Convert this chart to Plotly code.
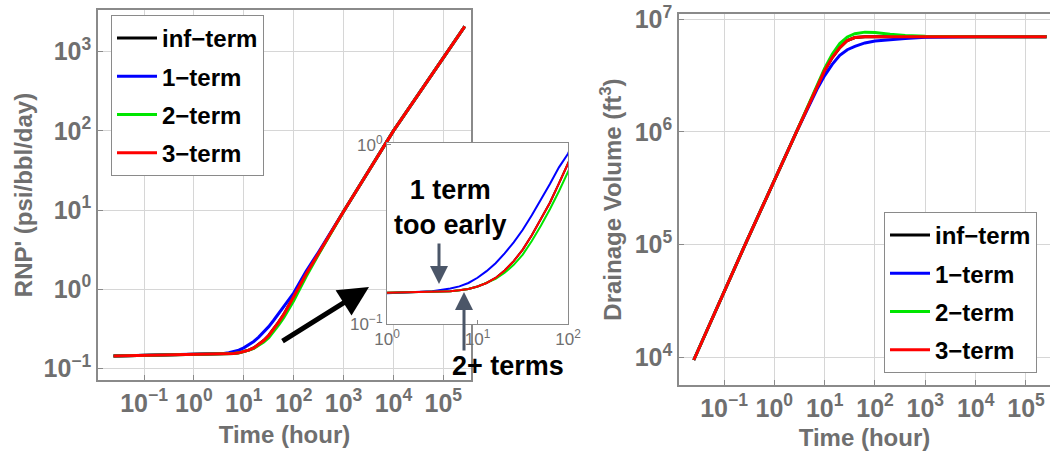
import plotly.graph_objects as go

W, H = 1050, 457
FONT = "Liberation Sans"
TICK_GRAY = "#6f6f6f"
FRAME = "#8a8a8a"
GRID = "#d6d6d6"
ARROW_GRAY = "#4b5668"

# ---- RNP' (psi/bbl/day) versus time (hour) ----
t_rnp = [0.0245, 0.1, 1.0, 3.162, 3.981, 5.012, 6.310, 7.943, 10.0, 12.59, 15.85,
         19.95, 25.12, 31.62, 39.81, 50.12, 63.10, 79.43, 100.0, 177.8, 316.2,
         1000.0, 10000.0, 269200.0]
rnp_inf = [0.1429, 0.1452, 0.1486, 0.1514, 0.1521, 0.1524, 0.1542, 0.1567, 0.1618,
           0.1694, 0.1807, 0.1991, 0.2244, 0.2600, 0.3126, 0.3828, 0.4753, 0.6095,
           0.8035, 1.549, 2.818, 9.55, 100.0, 2089.0]
rnp_1 = [0.1429, 0.1452, 0.1486, 0.1521, 0.1542, 0.1578, 0.1622, 0.1694, 0.1811,
         0.1972, 0.2183, 0.2477, 0.2858, 0.3357, 0.4046, 0.4920, 0.6039, 0.7482,
         0.8913, 1.679, 2.951, 9.55, 100.0, 2089.0]
rnp_2 = [0.1429, 0.1452, 0.1486, 0.1514, 0.1521, 0.1524, 0.1542, 0.1567, 0.1618,
         0.1694, 0.1786, 0.1932, 0.2138, 0.2438, 0.2904, 0.3532, 0.4365, 0.5508,
         0.7145, 1.445, 2.754, 9.55, 100.0, 2089.0]
rnp_3 = [0.1429, 0.1452, 0.1486, 0.1514, 0.1521, 0.1524, 0.1542, 0.1567, 0.1618,
         0.1694, 0.1807, 0.1991, 0.2244, 0.2600, 0.3126, 0.3828, 0.4753, 0.6095,
         0.8035, 1.549, 2.818, 9.55, 100.0, 2089.0]

# ---- Drainage volume (ft^3) versus time (hour) ----
t_vol = [0.0251, 0.263, 2.754, 5.012, 7.079, 10.0, 14.13, 19.95, 28.18, 39.81,
         63.10, 100.0, 199.5, 398.1, 1000.0, 3162.0, 10000.0, 257000.0]
vol_inf = [9462, 1.0e5, 1.0e6, 1.799e6, 2.512e6, 3.508e6, 4.571e6, 5.598e6, 6.486e6,
           6.887e6, 6.998e6, 7.015e6, 7.015e6, 7.015e6, 7.015e6, 7.015e6, 7.015e6, 7.015e6]
vol_1 = [9462, 1.0e5, 1.0e6, 1.778e6, 2.399e6, 3.162e6, 3.981e6, 4.786e6, 5.370e6,
         5.754e6, 6.166e6, 6.412e6, 6.607e6, 6.761e6, 6.918e6, 7.015e6, 7.015e6, 7.015e6]
vol_2 = [9462, 1.0e5, 1.0e6, 1.820e6, 2.570e6, 3.673e6, 4.898e6, 6.095e6, 6.966e6,
         7.447e6, 7.691e6, 7.621e6, 7.362e6, 7.178e6, 7.063e6, 7.015e6, 7.015e6, 7.015e6]
vol_3 = [9462, 1.0e5, 1.0e6, 1.799e6, 2.512e6, 3.508e6, 4.571e6, 5.598e6, 6.486e6,
         6.887e6, 6.998e6, 7.015e6, 7.015e6, 7.015e6, 7.015e6, 7.015e6, 7.015e6, 7.015e6]

series_names = ["inf\u2212term", "1\u2212term", "2\u2212term", "3\u2212term"]
series_colors = ["#000000", "#0000ff", "#00e600", "#ff0000"]
rnp_series = [rnp_inf, rnp_1, rnp_2, rnp_3]
vol_series = [vol_inf, vol_1, vol_2, vol_3]

# tick values / labels
time_ticks = [0.1, 1, 10, 100, 1000, 10000, 100000]
time_labels = ["10<sup>\u22121</sup>", "10<sup>0</sup>", "10<sup>1</sup>", "10<sup>2</sup>",
               "10<sup>3</sup>", "10<sup>4</sup>", "10<sup>5</sup>"]
rnp_ticks = [0.1, 1, 10, 100, 1000]
rnp_labels = ["10<sup>\u22121</sup>", "10<sup>0</sup>", "10<sup>1</sup>", "10<sup>2</sup>",
              "10<sup>3</sup>"]
vol_ticks = [1e4, 1e5, 1e6, 1e7]
vol_labels = ["10<sup>4</sup>", "10<sup>5</sup>", "10<sup>6</sup>", "10<sup>7</sup>"]
zoom_t_ticks = [1, 10, 100]
zoom_t_labels = ["10<sup>0</sup>", "10<sup>1</sup>", "10<sup>2</sup>"]
zoom_r_ticks = [0.1, 1]
zoom_r_labels = ["10<sup>\u22121</sup>", "10<sup>0</sup>"]


def px_x(x):
    return x / W


def px_y(y):
    return 1 - y / H


fig = go.Figure()

for name, color, ys in zip(series_names, series_colors, rnp_series):
    fig.add_trace(go.Scatter(x=t_rnp, y=ys, mode="lines", name=name,
                             line=dict(color=color, width=3),
                             xaxis="x", yaxis="y", legend="legend",
                             legendgroup="a" + name))
for name, color, ys in zip(series_names, series_colors, rnp_series):
    fig.add_trace(go.Scatter(x=t_rnp, y=ys, mode="lines", name=name,
                             line=dict(color=color, width=2),
                             xaxis="x3", yaxis="y3", showlegend=False))
for name, color, ys in zip(series_names, series_colors, vol_series):
    fig.add_trace(go.Scatter(x=t_vol, y=ys, mode="lines", name=name,
                             line=dict(color=color, width=3),
                             xaxis="x2", yaxis="y2", legend="legend2",
                             legendgroup="b" + name))

tick_font = dict(family=FONT, size=25, color=TICK_GRAY, weight="bold")
title_font = dict(family=FONT, size=24, color=TICK_GRAY, weight="bold")


def log_axis(rng, dom, vals, text, **kw):
    d = dict(type="log", range=rng, domain=dom, tickmode="array", tickvals=vals,
             ticktext=text, showline=True, linecolor=FRAME, linewidth=1.5,
             ticks="inside", ticklen=5, tickcolor=FRAME, showgrid=True,
             gridcolor=GRID, gridwidth=1, zeroline=False, tickfont=tick_font,
             automargin=False)
    d.update(kw)
    return d


legend_common = dict(bgcolor="white", bordercolor=FRAME, borderwidth=1,
                     font=dict(family=FONT, size=24, color="black", weight="bold"),
                     xanchor="left", yanchor="top", tracegroupgap=4,
                     traceorder="grouped", itemwidth=40)

fig.update_layout(
    template="none",
    width=W, height=H, margin=dict(l=0, r=0, t=0, b=0, autoexpand=False),
    paper_bgcolor="white", plot_bgcolor="white",
    xaxis=log_axis([-1.922, 5.555], [px_x(98), px_x(471)], time_ticks, time_labels,
                   anchor="y", mirror=True,
                   title=dict(text="Time (hour)", font=title_font, standoff=10)),
    yaxis=log_axis([-1.148, 3.527], [px_y(380), px_y(10)], rnp_ticks, rnp_labels,
                   anchor="x", mirror=True,
                   title=dict(text="RNP' (psi/bbl/day)", font=title_font, standoff=4)),
    xaxis2=log_axis([-1.894, 5.477], [px_x(679), 1.0], time_ticks, time_labels,
                    anchor="y2", mirror=True,
                    title=dict(text="Time (hour)", font=title_font, standoff=8)),
    yaxis2=log_axis([3.754, 7.047], [px_y(385), px_y(14)], vol_ticks, vol_labels,
                    anchor="x2",
                    title=dict(text="Drainage Volume (ft<sup>3</sup>)", font=title_font,
                               standoff=6)),
    xaxis3=log_axis([0, 2], [px_x(387), px_x(568)], zoom_t_ticks, zoom_t_labels,
                    anchor="y3", mirror=True, showgrid=False, linewidth=1,
                    ticklen=4,
                    tickfont=dict(family=FONT, size=17, color=TICK_GRAY)),
    yaxis3=log_axis([-1, 0.01], [px_y(324), px_y(143)], zoom_r_ticks, zoom_r_labels,
                    anchor="x3", mirror=True, showgrid=False, linewidth=1,
                    ticklen=4,
                    tickfont=dict(family=FONT, size=17, color=TICK_GRAY)),
    legend=dict(x=px_x(111), y=px_y(15), **legend_common),
    legend2=dict(x=px_x(884), y=px_y(212), **legend_common),
    showlegend=True,
)

ann_font = dict(family=FONT, size=27, color="black", weight="bold")
fig.add_annotation(x=px_x(450), y=px_y(207), xref="paper", yref="paper",
                   xanchor="center", yanchor="middle",
                   text="1 term<br>too early", showarrow=False, font=ann_font)
fig.add_annotation(x=px_x(508), y=px_y(366), xref="paper", yref="paper",
                   xanchor="center", yanchor="middle",
                   text="2+ terms", showarrow=False, font=ann_font)
# pointer arrows into the zoomed panel
fig.add_annotation(x=px_x(439), y=px_y(284), xref="paper", yref="paper", text="",
                   showarrow=True, arrowhead=2, arrowsize=1.2, arrowwidth=3,
                   arrowcolor=ARROW_GRAY, ax=0, ay=-42, standoff=0)
fig.add_annotation(x=px_x(464), y=px_y(292), xref="paper", yref="paper", text="",
                   showarrow=True, arrowhead=2, arrowsize=1.2, arrowwidth=3,
                   arrowcolor=ARROW_GRAY, ax=0, ay=60, standoff=0)
fig.add_annotation(x=px_x(369), y=px_y(287), xref="paper", yref="paper", text="",
                   showarrow=True, arrowhead=2, arrowsize=1.2, arrowwidth=5,
                   arrowcolor="black", ax=-88, ay=55, standoff=0)

fig.write_html("out.html")
